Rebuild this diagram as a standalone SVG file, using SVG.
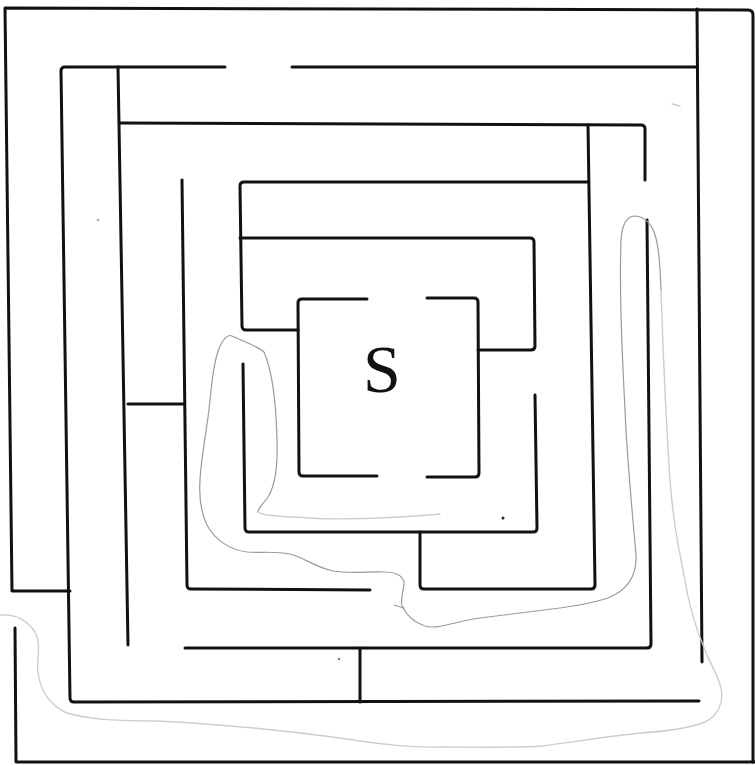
<svg xmlns="http://www.w3.org/2000/svg" width="755" height="765" viewBox="0 0 755 765">
<style>
.w{fill:none;stroke:#111;stroke-width:3;stroke-linecap:round;stroke-linejoin:round}
.t{fill:none;stroke:#9a9a9a;stroke-width:1.2;stroke-linecap:round;stroke-linejoin:round}
.f{fill:none;stroke:#cdcdcd;stroke-width:1.4;stroke-linecap:round;stroke-linejoin:round}
.s{font-family:"Liberation Serif","DejaVu Serif",serif;font-size:68px;fill:#111}
</style>
<rect width="755" height="765" fill="#fff"/>
<g id="walls">
<path class="w" d="M70,591 L12,591 L5,8 L748,10 Q753,10 753,15 L753,762"/>
<path class="w" d="M15,628 L16,762 L755,762"/>
<path class="w" d="M225,67 L65,67 Q61,67 61,71 L70,698 Q70,702 74,702 L699,701"/>
<path class="w" d="M292,67 L697,67"/>
<path class="w" d="M697,9 L702,662"/>
<path class="w" d="M118,67 L128,645"/>
<path class="w" d="M120,123 L641,125 Q645,125 645,129 L645,180"/>
<path class="w" d="M182,180 L187,585 Q187,589 191,589 L370,590"/>
<path class="w" d="M128,404 L183,404"/>
<path class="w" d="M588,182 L244,182 Q240,182 240,186 L242,326 Q242,330 246,330 L298,330"/>
<path class="w" d="M588,125 L595,585 Q595,589 591,589 L424,589 Q420,589 420,585 L420,532"/>
<path class="w" d="M240,238 L530,238 Q534,238 534,242 L535,346 Q535,350 531,350 L478,350"/>
<path class="w" d="M243,364 L245,528 Q245,532 249,532 L533,532 Q537,532 537,528 L535,395"/>
<path class="w" d="M647,220 L651,644 Q651,648 647,648 L185,648"/>
<path class="w" d="M360,648 L360,702"/>
</g>
<g id="start-box">
<path class="w" d="M367,299 L302,299 Q298,299 298,303 L299,472 Q299,476 303,476 L377,476"/>
<path class="w" d="M427,298 L474,298 Q478,298 478,302 L479,473 Q479,477 475,477 L427,477"/>
<text class="s" x="382" y="392" text-anchor="middle">S</text>
</g>
<g id="trace">
<path class="f" d="M0,615 C15,614 27,620 35,632 C42,645 36,660 38,672 C40,690 50,706 67,713 C90,720 120,721 157,721 C220,724 280,730 340,738 C380,744 410,748 442,747 C480,747 510,748 542,746 C580,741 610,736 642,733 C670,731 690,728 705,722 C718,716 724,702 721,688 C717,672 710,664 705,650 C694,625 688,600 684,575 C678,545 673,520 670,480 C666,420 663,350 661,290"/>
<path class="t" d="M661,290 C660,265 659,245 654,232 C649,220 642,216 634,216 C626,217 622,225 621,240 C619,300 623,370 626,430 C629,480 633,520 636,555 C637,575 628,590 608,598 C590,604 575,606 560,608 C530,612 505,615 480,618 C455,621 438,630 425,626 C412,622 405,612 402,606 C400,600 404,590 404,582 C402,575 395,572 385,572 C370,571 350,574 333,571 C315,567 305,558 290,554 C275,551 262,553 247,552 C230,550 215,540 207,525 C200,510 199,495 200,480 C201,460 205,440 209,410 C212,380 214,360 220,346 C224,338 228,334 232,336 C240,340 256,345 264,352 C272,370 276,400 277,440 C278,470 274,490 266,500 C262,505 258,508 258,512"/>
<path class="f" d="M258,512 C262,516 280,516 310,518 C340,520 380,519 440,514"/>
<path class="t" d="M394,605 L404,608"/>
<path class="f" d="M672,104 L680,106"/>
</g>
<g id="specks">
<circle cx="503" cy="518" r="1.5" fill="#222"/>
<circle cx="339" cy="659" r="1.2" fill="#777"/>
<circle cx="98" cy="220" r="1.3" fill="#aaa"/>
</g>
</svg>
